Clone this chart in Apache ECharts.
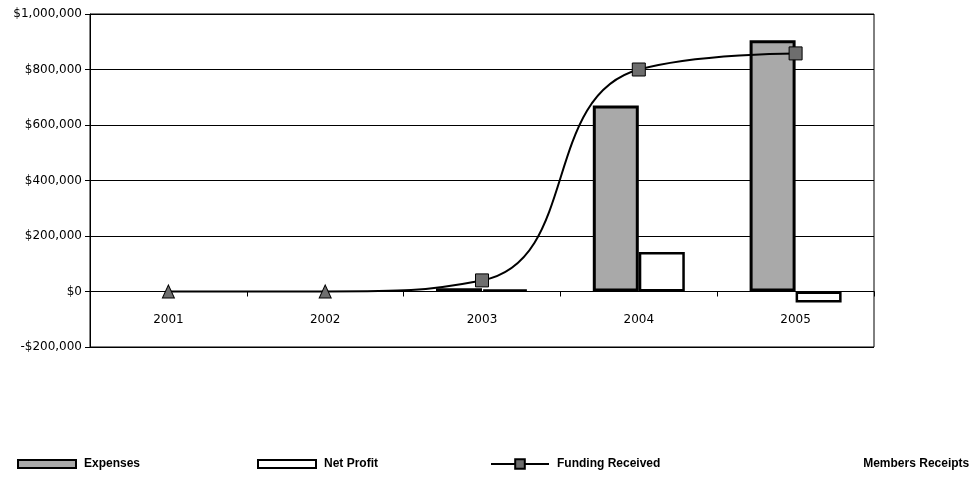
<!DOCTYPE html>
<html>
<head>
<meta charset="utf-8">
<title>Funding chart</title>
<script src="https://cdn.jsdelivr.net/npm/echarts@6/dist/echarts.min.js"></script>
<style>
html, body { margin: 0; padding: 0; background: #fff; }
#main { width: 971px; height: 489px; }
</style>
</head>
<body>
<div id="main"></div>
<script>
// 年份
const categories = ['2001', '2002', '2003', '2004', '2005']
// 各系列数据 (2001/2002 无柱)
const expenses = [null, null, 12000, 670000, 905000]
const netProfit = [null, null, 8000, 142000, -40000]
const funding = [0, 0, 40000, 800000, 858000]
const membersReceipts = [null, null, null, null, null]
// y轴刻度
const yMin = -200000
const yMax = 1000000
const yStep = 200000

const chart = echarts.init(document.getElementById('main'))

function money (v) {
  const s = '$' + Math.abs(v).toLocaleString('en-US')
  return v < 0 ? '-' + s : s
}

// 绘图区高度, 用来把x轴挪到0的位置
const gridTop = 14
const gridBottom = 142
const plotH = 489 - gridTop - gridBottom
const zeroOffset = -plotH * (0 - yMin) / (yMax - yMin)

const legendText = {
  color: '#000',
  fontSize: 12,
  fontWeight: 'bold',
  fontFamily: 'Liberation Sans, Arial, sans-serif',
  padding: [0, 0, 0, 3]
}

const option = {
  animation: false,
  backgroundColor: '#fff',
  grid: {
    left: 90,
    right: 97,
    top: gridTop,
    bottom: gridBottom,
    show: true,
    borderColor: '#000',
    borderWidth: 1,
    backgroundColor: 'transparent'
  },
  legend: [
    { data: [{ name: 'Expenses', icon: 'rect' }], left: 12, top: 453, itemWidth: 58, itemHeight: 8, textStyle: legendText },
    { data: [{ name: 'Net Profit', icon: 'rect' }], left: 252, top: 453, itemWidth: 58, itemHeight: 8, textStyle: legendText },
    { data: ['Funding Received'], left: 485, top: 453, itemWidth: 58, itemHeight: 12, textStyle: legendText },
    { data: ['Members Receipts'], left: 847, top: 453, itemWidth: 0, itemHeight: 8, textStyle: legendText }
  ],
  xAxis: {
    type: 'category',
    data: categories,
    boundaryGap: true,
    position: 'bottom',
    offset: zeroOffset,
    axisLine: { onZero: false, lineStyle: { color: '#000', width: 1 } },
    axisTick: { show: true, length: 5, lineStyle: { color: '#000' } },
    axisLabel: {
      margin: 22,
      color: '#000',
      fontSize: 12,
      fontFamily: 'DejaVu Sans, sans-serif'
    },
    splitLine: { show: false }
  },
  yAxis: {
    type: 'value',
    min: yMin,
    max: yMax,
    interval: yStep,
    axisLine: { show: true, lineStyle: { color: '#000', width: 1 } },
    axisTick: { show: true, length: 5, lineStyle: { color: '#000' } },
    axisLabel: {
      margin: 8,
      color: '#000',
      fontSize: 12,
      fontFamily: 'DejaVu Sans, sans-serif',
      formatter: money
    },
    splitLine: { show: true, lineStyle: { color: '#000', width: 1 } }
  },
  series: [
    {
      name: 'Expenses',
      type: 'bar',
      data: expenses,
      barWidth: 46,
      barGap: '0%',
      itemStyle: {
        color: '#a9a9a9',
        borderColor: '#000',
        borderWidth: 3
      },
      z: 2
    },
    {
      name: 'Net Profit',
      type: 'bar',
      data: netProfit,
      barWidth: 46,
      barGap: '0%',
      itemStyle: {
        color: '#fff',
        borderColor: '#000',
        borderWidth: 2.5
      },
      z: 2
    },
    {
      name: 'Funding Received',
      type: 'line',
      smooth: true,
      data: funding.map((v, i) => i < 2 ? { value: v, symbol: 'triangle', symbolSize: [12, 13] } : v),
      symbol: 'rect',
      symbolSize: 13,
      lineStyle: { color: '#000', width: 2 },
      itemStyle: { color: '#6e6e6e', borderColor: '#000', borderWidth: 1 },
      z: 5
    },
    {
      name: 'Members Receipts',
      type: 'line',
      data: membersReceipts,
      symbol: 'none',
      lineStyle: { width: 0 },
      itemStyle: { color: 'transparent' }
    }
  ]
}

chart.setOption(option)
</script>
</body>
</html>
